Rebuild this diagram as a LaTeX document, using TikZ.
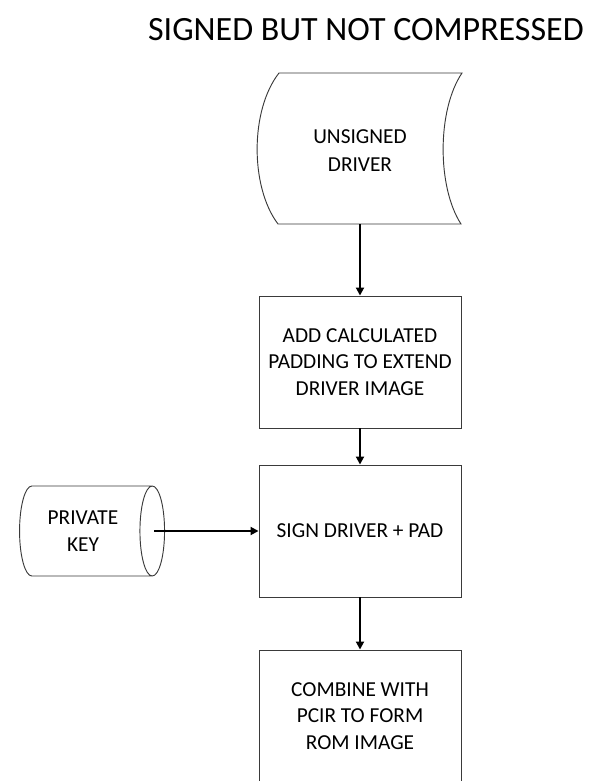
\documentclass[tikz,border=0pt]{standalone}
\usepackage{fontspec}
\setmainfont{Carlito}
\usetikzlibrary{shapes.geometric, arrows.meta, positioning}
\definecolor{EdgeGray}{HTML}{3A3A3A}

\begin{document}
\begin{tikzpicture}[x=0.75pt, y=-0.75pt,
    stepbox/.style={draw=EdgeGray, line width=0.7pt, minimum width=151.5pt,
      minimum height=99pt, align=center, font=\fontsize{16}{20}\selectfont},
    flow/.style={-{Triangle[length=6pt, width=6pt]}, line width=1.4pt}]
  \useasboundingbox (0,0) rectangle (590,781);

  % Title
  \node[anchor=east, inner sep=0pt, font=\fontsize{25.5}{30}\selectfont]
    (title) at (584,30) {SIGNED BUT NOT COMPRESSED};

  % Unsigned driver (stored data outline)
  \node[minimum height=109.5pt, align=center, font=\fontsize{16}{21}\selectfont]
    (unsigned) at (360,151) {UNSIGNED\\DRIVER};
  \draw[EdgeGray, line width=0.7pt] (279,73) -- (462,73)
    .. controls (437,110) and (437,187) .. (461,224) -- (278,224)
    .. controls (250,187) and (250,110) .. cycle;

  % Process steps
  \node[stepbox] (pad) at (360,362) {ADD CALCULATED\\PADDING TO EXTEND\\DRIVER IMAGE};
  \node[stepbox] (sign) at (360,531) {SIGN DRIVER + PAD};
  \node[stepbox] (combine) at (360,716) {COMBINE WITH\\PCIR TO FORM\\ROM IMAGE};

  % Private key store
  \node[cylinder, draw=EdgeGray, line width=0.7pt, aspect=0.5,
    minimum width=67.5pt, minimum height=108.75pt, align=center,
    font=\fontsize{16}{20}\selectfont] (key) at (83,531) {PRIVATE\\KEY};

  % Connectors
  \draw[flow] (unsigned.south) -- (pad.north);
  \draw[flow] (pad) -- (sign);
  \draw[flow] (sign) -- (combine);
  \draw[flow] ([xshift=-8.25pt]key.east) -- (sign.west);
\end{tikzpicture}
\end{document}
